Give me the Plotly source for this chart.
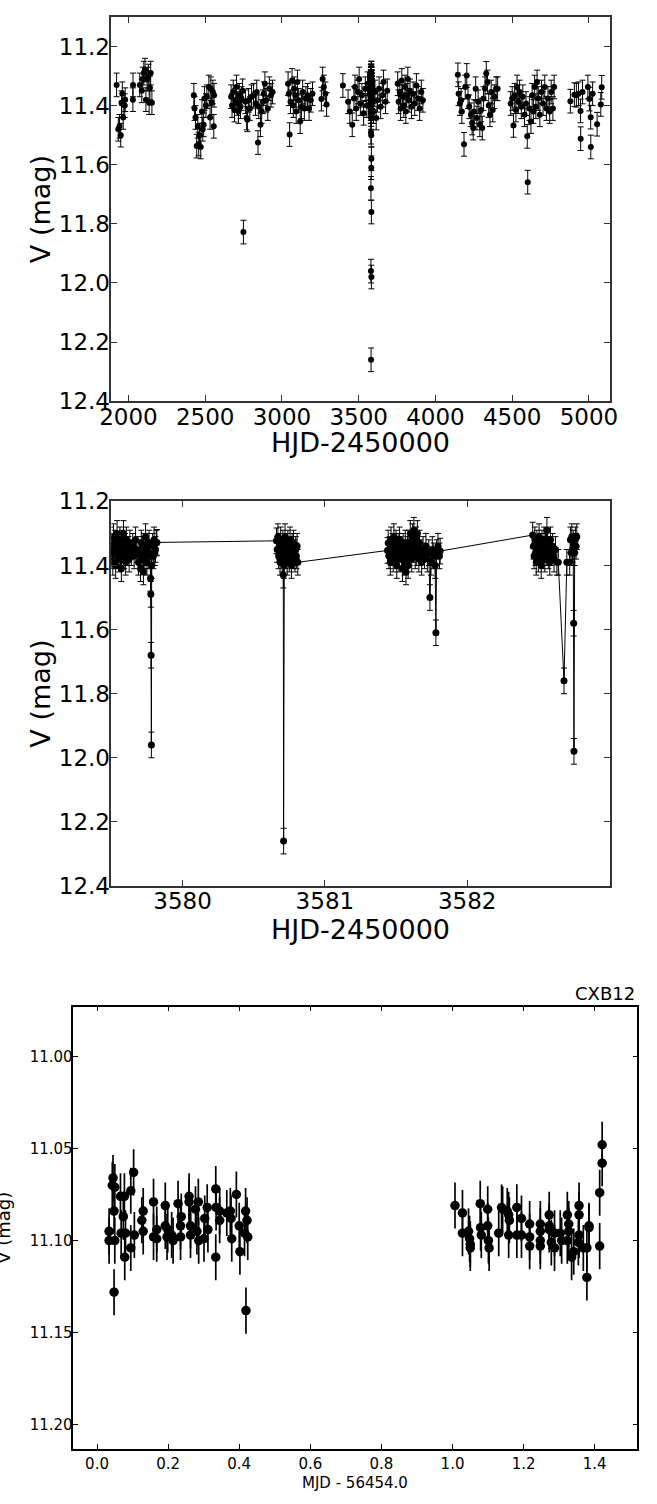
import plotly.graph_objects as go

# ---------------- Panel 1: long-term light curve (seasons) ----------------
hjd_s1 = [1923, 1934, 1942, 1950, 1955, 1960, 1966, 1976, 1979, 2029, 2030, 2074, 2087, 2093,
          2100, 2108, 2114, 2122, 2130, 2135, 2140, 2145, 2153]
v_s1 = [11.33, 11.48, 11.47, 11.50, 11.39, 11.36, 11.44, 11.40, 11.38, 11.38, 11.33, 11.33, 11.35, 11.31,
        11.29, 11.28, 11.38, 11.31, 11.30, 11.39, 11.34, 11.29, 11.39]

hjd_s2 = [2426, 2431, 2437, 2445, 2452, 2458, 2463, 2471, 2479, 2484, 2490, 2495, 2505, 2511,
          2524, 2532, 2537, 2542, 2550, 2556, 2558]
v_s2 = [11.365, 11.41, 11.44, 11.537, 11.47, 11.53, 11.50, 11.54, 11.42, 11.48, 11.465, 11.376, 11.40, 11.37,
        11.337, 11.44, 11.343, 11.39, 11.354, 11.47, 11.365]

hjd_s3 = [2669, 2675, 2683, 2691, 2696, 2704, 2709, 2717, 2722, 2730, 2736, 2744, 2749, 2762, 2770,
          2775, 2783, 2791, 2802, 2815, 2828, 2836, 2844, 2849, 2860, 2868, 2876, 2881, 2889, 2897,
          2908, 2918, 2929, 2939]
v_s3 = [11.37, 11.40, 11.354, 11.415, 11.382, 11.337, 11.393, 11.42, 11.365, 11.404, 11.376, 11.35, 11.828,
        11.387, 11.442, 11.448, 11.382, 11.41, 11.37, 11.365, 11.393, 11.354, 11.525, 11.404, 11.465, 11.42,
        11.387, 11.36, 11.326, 11.382, 11.41, 11.343, 11.365, 11.354]

hjd_s4 = [3040, 3045, 3050, 3056, 3066, 3074, 3080, 3087, 3093, 3101, 3109, 3119, 3127, 3135, 3146,
          3156, 3167, 3177, 3188, 3199, 3257, 3265, 3273, 3283, 3291]
v_s4 = [11.326, 11.36, 11.498, 11.387, 11.315, 11.40, 11.343, 11.365, 11.42, 11.32, 11.382, 11.454, 11.404,
        11.354, 11.41, 11.376, 11.365, 11.41, 11.382, 11.36, 11.378, 11.31, 11.337, 11.36, 11.396]

hjd_s5 = [3397, 3431, 3442, 3458, 3469, 3476, 3484, 3495, 3503, 3511, 3521, 3532, 3543, 3553, 3558,
          3585, 3596, 3606, 3614, 3622, 3633, 3643, 3654, 3662, 3675, 3686]
v_s5 = [11.332, 11.387, 11.42, 11.465, 11.376, 11.337, 11.41, 11.354, 11.31, 11.393, 11.365, 11.426, 11.343,
        11.40, 11.326, 11.376, 11.42, 11.354, 11.442, 11.382, 11.343, 11.404, 11.365, 11.32, 11.387, 11.35]

hjd_s6 = [3754, 3760, 3768, 3773, 3781, 3786, 3794, 3802, 3807, 3813, 3820, 3828, 3834, 3844, 3855,
          3865, 3876, 3887, 3897, 3908, 3918]
v_s6 = [11.326, 11.387, 11.354, 11.41, 11.315, 11.37, 11.40, 11.337, 11.42, 11.365, 11.31, 11.382, 11.35,
        11.404, 11.36, 11.393, 11.332, 11.376, 11.41, 11.354, 11.382]

hjd_s7 = [4146, 4151, 4159, 4167, 4172, 4186, 4194, 4204, 4212, 4220, 4231, 4239, 4246, 4252, 4262,
          4270, 4278, 4289, 4297, 4305, 4313, 4323, 4331, 4339, 4347, 4355, 4363, 4373, 4384, 4395, 4405]
v_s7 = [11.296, 11.36, 11.393, 11.382, 11.42, 11.531, 11.337, 11.298, 11.37, 11.404, 11.431, 11.459, 11.476,
        11.42, 11.343, 11.442, 11.387, 11.465, 11.415, 11.476, 11.376, 11.343, 11.291, 11.32, 11.40, 11.431,
        11.354, 11.415, 11.37, 11.343, 11.343]

hjd_s8 = [4490, 4500, 4508, 4516, 4524, 4532, 4540, 4548, 4559, 4569, 4580, 4590, 4598, 4601, 4612,
          4622, 4630, 4638, 4646, 4654, 4662, 4670, 4680, 4691, 4701, 4712, 4723, 4733, 4744, 4754, 4765, 4773]
v_s8 = [11.393, 11.376, 11.467, 11.365, 11.415, 11.337, 11.387, 11.354, 11.404, 11.37, 11.431, 11.393, 11.504,
        11.659, 11.41, 11.454, 11.365, 11.42, 11.337, 11.404, 11.32, 11.376, 11.431, 11.354, 11.393, 11.337,
        11.41, 11.376, 11.42, 11.354, 11.41, 11.337]

hjd_s9 = [4879, 4905, 4918, 4932, 4945, 4946, 4958, 4993, 5003, 5011, 5012, 5024, 5053, 5077, 5083]
v_s9 = [11.385, 11.363, 11.365, 11.36, 11.418, 11.512, 11.354, 11.337, 11.378, 11.439, 11.54, 11.36, 11.463,
        11.396, 11.338]

# ---------------- Panel 2: four nights around HJD 2453580 ----------------
hjd_n1 = [3579.490, 3579.495, 3579.500, 3579.505, 3579.510, 3579.515, 3579.520, 3579.525, 3579.530,
          3579.535, 3579.540, 3579.545, 3579.550, 3579.555, 3579.560, 3579.565, 3579.570, 3579.575,
          3579.580, 3579.585, 3579.590, 3579.595, 3579.600, 3579.605, 3579.610, 3579.620, 3579.625,
          3579.630, 3579.640, 3579.650, 3579.660, 3579.670, 3579.680, 3579.690, 3579.700, 3579.705,
          3579.710, 3579.715, 3579.720, 3579.725, 3579.730, 3579.735, 3579.740, 3579.745, 3579.750,
          3579.755, 3579.760, 3579.765, 3579.770, 3579.775, 3579.777, 3579.779, 3579.781, 3579.783,
          3579.790, 3579.795, 3579.800, 3579.805, 3579.810, 3579.815, 3579.820]
v_n1 = [11.35, 11.32, 11.37, 11.34, 11.39, 11.31, 11.36, 11.33, 11.40, 11.35, 11.30, 11.37, 11.34, 11.38,
        11.32, 11.36, 11.41, 11.33, 11.35, 11.30, 11.37, 11.34, 11.39, 11.32, 11.36, 11.35, 11.38, 11.33,
        11.36, 11.34, 11.37, 11.32, 11.35, 11.39, 11.36, 11.41, 11.33, 11.38, 11.35, 11.42, 11.34, 11.37,
        11.31, 11.36, 11.39, 11.34, 11.37, 11.33, 11.36, 11.44, 11.49, 11.68, 11.96, 11.40, 11.34, 11.37,
        11.32, 11.36, 11.35, 11.33, 11.328]

hjd_n2 = [3580.660, 3580.665, 3580.670, 3580.675, 3580.680, 3580.685, 3580.690, 3580.695, 3580.700,
          3580.705, 3580.708, 3580.710, 3580.712, 3580.715, 3580.720, 3580.725, 3580.730, 3580.735,
          3580.740, 3580.745, 3580.750, 3580.755, 3580.760, 3580.765, 3580.770, 3580.775, 3580.780,
          3580.785, 3580.790, 3580.795, 3580.800, 3580.805, 3580.810]
v_n2 = [11.323, 11.35, 11.31, 11.37, 11.34, 11.39, 11.32, 11.36, 11.38, 11.33, 11.43, 12.26, 11.40, 11.35,
        11.31, 11.37, 11.34, 11.39, 11.33, 11.36, 11.38, 11.32, 11.35, 11.40, 11.34, 11.37, 11.33, 11.36,
        11.38, 11.35, 11.37, 11.34, 11.39]

hjd_n3 = [3581.440, 3581.445, 3581.450, 3581.455, 3581.460, 3581.465, 3581.470, 3581.475, 3581.480,
          3581.485, 3581.490, 3581.495, 3581.500, 3581.505, 3581.510, 3581.515, 3581.520, 3581.525,
          3581.530, 3581.540, 3581.545, 3581.550, 3581.555, 3581.560, 3581.565, 3581.570, 3581.575,
          3581.580, 3581.585, 3581.590, 3581.595, 3581.600, 3581.605, 3581.610, 3581.615, 3581.620,
          3581.625, 3581.630, 3581.635, 3581.640, 3581.645, 3581.650, 3581.655, 3581.660, 3581.665,
          3581.670, 3581.680, 3581.690, 3581.700, 3581.710, 3581.720, 3581.730, 3581.738, 3581.745,
          3581.755, 3581.765, 3581.775, 3581.780, 3581.785, 3581.795, 3581.805, 3581.810]
v_n3 = [11.353, 11.33, 11.37, 11.35, 11.39, 11.32, 11.36, 11.34, 11.38, 11.31, 11.35, 11.37, 11.33, 11.40,
        11.36, 11.34, 11.38, 11.32, 11.35, 11.37, 11.41, 11.34, 11.36, 11.39, 11.33, 11.42, 11.37, 11.35,
        11.40, 11.33, 11.36, 11.30, 11.34, 11.38, 11.31, 11.35, 11.29, 11.33, 11.37, 11.32, 11.36, 11.30,
        11.34, 11.38, 11.33, 11.36, 11.39, 11.35, 11.37, 11.34, 11.38, 11.36, 11.50, 11.39, 11.35, 11.37,
        11.40, 11.61, 11.36, 11.34, 11.37, 11.355]

hjd_n4 = [3582.460, 3582.465, 3582.470, 3582.475, 3582.480, 3582.485, 3582.490, 3582.495, 3582.500,
          3582.505, 3582.510, 3582.515, 3582.520, 3582.525, 3582.530, 3582.535, 3582.540, 3582.545,
          3582.550, 3582.555, 3582.560, 3582.565, 3582.570, 3582.575, 3582.580, 3582.585, 3582.590,
          3582.600, 3582.610, 3582.620, 3582.630, 3582.640, 3582.680, 3582.700, 3582.720, 3582.725,
          3582.730, 3582.735, 3582.740, 3582.745, 3582.748, 3582.750, 3582.755, 3582.760, 3582.765,
          3582.770]
v_n4 = [11.305, 11.34, 11.37, 11.32, 11.36, 11.39, 11.33, 11.35, 11.38, 11.31, 11.36, 11.34, 11.40, 11.33,
        11.37, 11.35, 11.32, 11.38, 11.34, 11.36, 11.29, 11.33, 11.37, 11.35, 11.39, 11.32, 11.36, 11.34,
        11.38, 11.35, 11.39, 11.39, 11.76, 11.39, 11.39, 11.32, 11.36, 11.31, 11.35, 11.33, 11.58, 11.98,
        11.36, 11.32, 11.34, 11.31]

v_err = 0.04

# ---------------- Panel 3: CXB12 ----------------
mjd_c = [0.034, 0.034, 0.045, 0.043, 0.048, 0.050, 0.050, 0.048, 0.066, 0.077, 0.074, 0.068, 0.080, 0.078,
         0.095, 0.103, 0.095, 0.105, 0.130, 0.126, 0.130, 0.159, 0.159, 0.168, 0.168, 0.192, 0.192, 0.199,
         0.197, 0.214, 0.210, 0.228, 0.235, 0.235, 0.237, 0.259, 0.259, 0.263, 0.263, 0.277, 0.285, 0.286,
         0.281, 0.301, 0.303, 0.310, 0.312, 0.334, 0.334, 0.335, 0.345, 0.345, 0.365, 0.375, 0.377, 0.379,
         0.392, 0.400, 0.402, 0.415, 0.418, 0.422, 0.424, 0.419,
         1.007, 1.028, 1.028, 1.045, 1.048, 1.050, 1.050, 1.078, 1.079, 1.081, 1.099, 1.099, 1.101, 1.103,
         1.130, 1.138, 1.141, 1.154, 1.158, 1.160, 1.158, 1.181, 1.181, 1.194, 1.194, 1.217, 1.217, 1.217,
         1.247, 1.247, 1.247, 1.247, 1.272, 1.272, 1.272, 1.278, 1.287, 1.287, 1.303, 1.307, 1.323, 1.327,
         1.327, 1.323, 1.335, 1.341, 1.356, 1.356, 1.356, 1.354, 1.368, 1.378, 1.378, 1.384, 1.384, 1.414,
         1.414, 1.421, 1.421]
mag_c = [11.095, 11.100, 11.066, 11.070, 11.084, 11.071, 11.100, 11.128, 11.076, 11.076, 11.087, 11.096,
         11.096, 11.109, 11.073, 11.063, 11.104, 11.097, 11.084, 11.089, 11.095, 11.079, 11.098, 11.094,
         11.099, 11.081, 11.092, 11.094, 11.098, 11.100, 11.097, 11.080, 11.092, 11.098, 11.087, 11.076,
         11.079, 11.092, 11.097, 11.083, 11.079, 11.100, 11.095, 11.099, 11.088, 11.082, 11.094, 11.072,
         11.109, 11.082, 11.084, 11.089, 11.085, 11.084, 11.088, 11.099, 11.075, 11.092, 11.106, 11.096,
         11.084, 11.089, 11.098, 11.138,
         11.081, 11.085, 11.096, 11.095, 11.099, 11.102, 11.104, 11.080, 11.093, 11.097, 11.083, 11.092,
         11.100, 11.104, 11.096, 11.082, 11.083, 11.084, 11.086, 11.089, 11.097, 11.082, 11.097, 11.088,
         11.097, 11.091, 11.098, 11.103, 11.091, 11.095, 11.100, 11.103, 11.086, 11.092, 11.094, 11.101,
         11.104, 11.096, 11.096, 11.100, 11.086, 11.091, 11.095, 11.100, 11.109, 11.106, 11.081, 11.086,
         11.097, 11.101, 11.104, 11.104, 11.120, 11.092, 11.093, 11.074, 11.103, 11.058, 11.048]
mag_err_c = 0.0125

# ---------------- Build figure ----------------
hjd_nights = hjd_n1 + hjd_n2 + hjd_n3 + hjd_n4
v_nights = v_n1 + v_n2 + v_n3 + v_n4
hjd_all = hjd_s1 + hjd_s2 + hjd_s3 + hjd_s4 + hjd_s5 + hjd_nights + hjd_s6 + hjd_s7 + hjd_s8 + hjd_s9
v_all = v_s1 + v_s2 + v_s3 + v_s4 + v_s5 + v_nights + v_s6 + v_s7 + v_s8 + v_s9

W, H = 657, 1504
FONT = "DejaVu Sans"

fig = go.Figure()
fig.add_trace(go.Scatter(
    x=hjd_all, y=v_all, mode="markers", xaxis="x", yaxis="y",
    marker=dict(size=6, color="black"),
    error_y=dict(type="constant", value=v_err, color="black", thickness=1, width=3),
))
fig.add_trace(go.Scatter(
    x=hjd_nights, y=v_nights, mode="lines+markers", xaxis="x2", yaxis="y2",
    line=dict(color="black", width=1),
    marker=dict(size=7, color="black"),
    error_y=dict(type="constant", value=v_err, color="black", thickness=1, width=3),
))
fig.add_trace(go.Scatter(
    x=mjd_c, y=mag_c, mode="markers", xaxis="x3", yaxis="y3",
    marker=dict(size=9.5, color="black"),
    error_y=dict(type="constant", value=mag_err_c, color="black", thickness=1.7, width=0),
))


def px_x(p):
    return p / W


def px_y(p):
    return 1 - p / H


big_axis = dict(showline=True, linecolor="#333", linewidth=1.5, mirror="ticks", ticks="inside",
                ticklen=6, tickwidth=1, tickcolor="#333", showgrid=False, zeroline=False,
                tickfont=dict(family=FONT, size=23, color="black"))
small_axis = dict(showline=True, linecolor="black", linewidth=1.5, mirror="ticks", ticks="inside",
                  ticklen=5, tickwidth=1, tickcolor="black", showgrid=False, zeroline=False,
                  tickfont=dict(family=FONT, size=15, color="black"))

dom1x = [px_x(102.5), px_x(616.3)]
dom1y = [px_y(395), px_y(4)]
dom2y = [px_y(888.3), px_y(497)]
dom3x = [px_x(63.3), px_x(645)]
dom3y = [px_y(1461.3), px_y(1011)]

ticks1x = [2000, 2500, 3000, 3500, 4000, 4500, 5000]
ticks1y = [11.2, 11.4, 11.6, 11.8, 12.0, 12.2, 12.4]
ticks2x = [3580, 3581, 3582]
ticks3x = [0.0, 0.2, 0.4, 0.6, 0.8, 1.0, 1.2, 1.4]
ticks3y = [11.00, 11.05, 11.10, 11.15, 11.20]

fig.update_layout(
    width=W, height=H, margin=dict(l=0, r=0, t=0, b=0),
    paper_bgcolor="white", plot_bgcolor="white", showlegend=False,
    xaxis=dict(big_axis, domain=dom1x, anchor="y", range=[1889, 5134], ticklabelstandoff=-6,
               tickvals=ticks1x, ticktext=[str(t) for t in ticks1x]),
    yaxis=dict(big_axis, domain=dom1y, anchor="x", range=[12.4, 11.1], ticklabelstandoff=-5,
               tickvals=ticks1y, ticktext=["%.1f" % t for t in ticks1y]),
    xaxis2=dict(big_axis, domain=dom1x, anchor="y2", range=[3579.5, 3583], ticklabelstandoff=-6,
                tickvals=ticks2x, ticktext=[str(t) for t in ticks2x]),
    yaxis2=dict(big_axis, domain=dom2y, anchor="x2", range=[12.4, 11.2], ticklabelstandoff=-5,
                tickvals=ticks1y, ticktext=["%.1f" % t for t in ticks1y]),
    xaxis3=dict(small_axis, domain=dom3x, anchor="y3", range=[-0.0665, 1.52],
                tickvals=ticks3x, ticktext=["%.1f" % t for t in ticks3x]),
    yaxis3=dict(small_axis, domain=dom3y, anchor="x3", range=[11.2131, 10.973], ticklabelstandoff=-4,
                tickvals=ticks3y, ticktext=["%.2f" % t for t in ticks3y]),
)

ann = []
for yc in (199.5, 692.5):
    ann.append(dict(text="V (mag)", x=px_x(29), y=px_y(yc), xref="paper", yref="paper",
                    textangle=-90, showarrow=False, xanchor="center", yanchor="middle",
                    font=dict(family=FONT, size=27, color="black")))
for yc in (437, 933):
    ann.append(dict(text="HJD-2450000", x=px_x(359.4), y=px_y(yc), xref="paper", yref="paper",
                    showarrow=False, xanchor="center", yanchor="middle",
                    font=dict(family=FONT, size=27, color="black")))
ann.append(dict(text="MJD - 56454.0", x=px_x(354), y=px_y(1496), xref="paper", yref="paper",
                showarrow=False, xanchor="center", yanchor="middle",
                font=dict(family=FONT, size=15, color="black")))
ann.append(dict(text="V (mag)", x=px_x(-9), y=px_y(1236), xref="paper", yref="paper",
                textangle=-90, showarrow=False, xanchor="center", yanchor="middle",
                font=dict(family=FONT, size=18, color="black")))
ann.append(dict(text="CXB12", x=px_x(645), y=px_y(998), xref="paper", yref="paper",
                showarrow=False, xanchor="right", yanchor="middle",
                font=dict(family=FONT, size=18, color="black")))
fig.update_layout(annotations=ann)

fig.write_html("out.html",
               post_script="document.body.style.margin='0';document.body.style.overflow='hidden';")
